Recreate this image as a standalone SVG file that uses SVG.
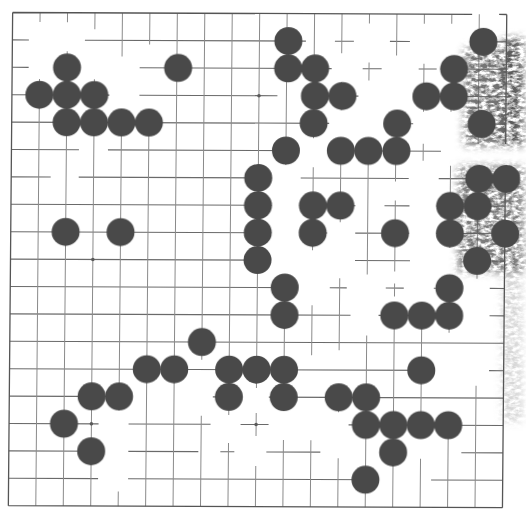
<svg xmlns="http://www.w3.org/2000/svg" width="526" height="515" viewBox="0 0 526 515">
<defs>
<style>
.h{fill:none;stroke:#6a6a6a;stroke-width:1.1}
.v{fill:none;stroke:#8a8a8a;stroke-width:1}
.e{fill:none;stroke:#555555;stroke-width:1.3}
.st circle{fill:#4a4a4a}
.hs{fill:#5a5a5a}
</style>
<filter id="soft" x="-10%" y="-10%" width="120%" height="120%"><feGaussianBlur stdDeviation="0.6"/></filter>
<filter id="smudge" filterUnits="userSpaceOnUse" x="430" y="0" width="96" height="460" color-interpolation-filters="sRGB">
<feTurbulence type="fractalNoise" baseFrequency="0.16 0.28" numOctaves="3" seed="11" result="noise"/>
<feColorMatrix in="noise" type="matrix" values="0 0 0 0 0.36 0 0 0 0 0.36 0 0 0 0 0.36 2.8 0 0 0 -0.85" result="speck"/>
<feGaussianBlur in="SourceAlpha" stdDeviation="4" result="mask"/>
<feComposite in="speck" in2="mask" operator="in"/>
</filter>
</defs>
<rect width="526" height="515" fill="#ffffff"/>
<g id="board" transform="matrix(1 0.004 -0.0087 1 2.26 -1.04)">
<g id="grid">
<path class="h" d="M83 40.9H304M333 40.9H352M388 40.9H408M468 40.9H504.6M10.5 40.9H27
M10.5 68.3H27M138 68.3H330M361 68.3H380M417 68.3H435M439 68.3H504.6
M10.5 95.7H108M138 95.7H276M301 95.7H357M413 95.7H504.6
M10.5 123.1H328M384 123.1H412M469 123.1H504.6
M10.5 150.5H78M107 150.5H298M327 150.5H440
M10.5 177.9H50M78 177.9H271M300 177.9H408M438 177.9H504.6
M10.5 205.3H271M300 205.3H355M384 205.3H409M436 205.3H504.6
M10.5 232.7H271M300 232.7H327M355 232.7H409M436 232.7H504.6
M10.5 260.1H271M355 260.1H410M464 260.1H504.6
M10.5 287.5H298M330 287.5H347M386 287.5H404M434 287.5H462M490 287.5H504.6
M10.5 314.9H351M379 314.9H461M490 314.9H504.6
M10.5 342.3H504.6
M10.5 369.7H435M490 369.7H504.6
M10.5 397.1H131M214 397.1H242M270 397.1H504.6
M10.5 424.5H100M130 424.5H212M242 424.5H270M350 424.5H504.6
M10.5 451.9H103M130 451.9H200M222 451.9H236M268 451.9H322M463 451.9H504.6
M10.5 479.3H100M130 479.3H377M433 479.3H504.6"/>
<path class="v" d="M37.95 13.5V23M37.95 80V506.7
M65.4 13.5V23M65.4 52V506.7
M92.85 13.5V30M92.85 80V506.7
M120.3 13.5V57M120.3 110V411M120.3 492V506.7
M147.75 13.5V45M147.75 110V506.7
M175.2 13.5V506.7
M202.65 13.5V360M202.65 416V506.7
M230.1 13.5V415M230.1 443V506.7
M257.55 13.5V388M257.55 413V436M257.55 466V506.7
M285 13.5V165M285 275V411M285 440V506.7
M312.45 13.5V138M312.45 167V250M312.45 305V355M312.45 440V506.7
M339.9 13.5V53M339.9 82V110M339.9 138V222M339.9 278V350M339.9 384V412M339.9 458V506.7
M367.35 13.5V23M367.35 62V80M367.35 138V274M367.35 335V506.7
M394.8 13.5V55M394.8 112V181M394.8 200V271M394.8 283V296M394.8 305V506.7
M422.25 13.5V23M422.25 63V111M422.25 143V160M422.25 306V421M422.25 458V506.7
M449.7 13.5V23M449.7 56V111M449.7 165V247M449.7 275V332M449.7 413V506.7
M477.15 13.5V143M477.15 165V278M477.15 385V506.7"/>
<path class="e" d="M10.5 13.5H470M497 13.5H504.6M10.5 506.7H504.6M10.5 13.5V506.7M504.6 13.5V143M504.6 165V506.7"/>
<g id="hoshi" class="hs">
<circle cx="92.85" cy="260.1" r="1.8"/>
<circle cx="257.55" cy="95.7" r="1.8"/>
<circle cx="92.85" cy="424.5" r="1.8"/>
<circle cx="257.55" cy="424.5" r="1.8"/>
</g>
</g>
</g>
<g id="smudge" filter="url(#smudge)">
<rect x="464" y="48" width="60" height="98" fill="#000" fill-opacity="0.85"/>
<rect x="502" y="38" width="22" height="108" fill="#000" fill-opacity="1"/>
<rect x="458" y="166" width="66" height="106" fill="#000" fill-opacity="0.8"/>
<rect x="502" y="272" width="20" height="150" fill="#000" fill-opacity="0.25"/>
</g>
<g transform="matrix(1 0.004 -0.0087 1 2.26 -1.04)">
<g id="stones" class="st" filter="url(#soft)">
<circle id="s-2-2" cx="65.4" cy="68.3" r="14"/>
<circle id="s-1-3" cx="37.95" cy="95.7" r="14"/>
<circle id="s-2-3" cx="65.4" cy="95.7" r="14"/>
<circle id="s-3-3" cx="92.85" cy="95.7" r="14"/>
<circle id="s-2-4" cx="65.4" cy="123.1" r="14"/>
<circle id="s-3-4" cx="92.85" cy="123.1" r="14"/>
<circle id="s-4-4" cx="120.3" cy="123.1" r="14"/>
<circle id="s-5-4" cx="147.75" cy="123.1" r="14"/>
<circle id="s-6-2" cx="176.5" cy="68.3" r="14"/>
<circle id="s-10-1" cx="286.5" cy="40.9" r="14"/>
<circle id="s-10-2" cx="286.5" cy="68.3" r="14"/>
<circle id="s-11-2" cx="313.5" cy="68.3" r="14"/>
<circle id="s-11-3" cx="313.5" cy="95.7" r="14"/>
<circle id="s-12-3" cx="341" cy="95.7" r="14"/>
<circle id="s-11-4" cx="312.45" cy="123.1" r="14"/>
<circle id="s-10-5" cx="285" cy="150.5" r="14"/>
<circle id="s-12-5" cx="339.9" cy="150.5" r="14"/>
<circle id="s-13-5" cx="367.35" cy="150.5" r="14"/>
<circle id="s-14-5" cx="395.5" cy="150.5" r="14"/>
<circle id="s-14-4" cx="396" cy="123.1" r="14"/>
<circle id="s-17-1" cx="481.5" cy="40.9" r="14"/>
<circle id="s-16-2" cx="452.5" cy="68.3" r="14"/>
<circle id="s-15-3" cx="425" cy="95.7" r="14"/>
<circle id="s-16-3" cx="452.5" cy="95.7" r="14"/>
<circle id="s-17-4" cx="480.5" cy="123.1" r="14"/>
<circle id="s-9-6" cx="257.55" cy="177.9" r="14"/>
<circle id="s-9-7" cx="257.55" cy="205.3" r="14"/>
<circle id="s-9-8" cx="257.55" cy="232.7" r="14"/>
<circle id="s-9-9" cx="257.55" cy="260.1" r="14"/>
<circle id="s-11-7" cx="312.45" cy="205.3" r="14"/>
<circle id="s-12-7" cx="339.9" cy="205.3" r="14"/>
<circle id="s-11-8" cx="312.45" cy="232.7" r="14"/>
<circle id="s-14-8" cx="394.8" cy="232.7" r="14"/>
<circle id="s-10-10" cx="285" cy="287.5" r="14"/>
<circle id="s-10-11" cx="285" cy="314.9" r="14"/>
<circle id="s-2-8" cx="65.4" cy="232.7" r="14"/>
<circle id="s-4-8" cx="120.3" cy="232.7" r="14"/>
<circle id="s-17-6" cx="478.5" cy="177.9" r="14"/>
<circle id="s-18-6" cx="505.5" cy="177.9" r="14"/>
<circle id="s-16-7" cx="449.7" cy="205.3" r="14"/>
<circle id="s-17-7" cx="477.15" cy="205.3" r="14"/>
<circle id="s-16-8" cx="449.7" cy="232.7" r="14"/>
<circle id="s-18-8" cx="505" cy="232.7" r="14"/>
<circle id="s-17-9" cx="477.15" cy="260.1" r="14"/>
<circle id="s-16-10" cx="449.7" cy="287.5" r="14"/>
<circle id="s-14-11" cx="394.8" cy="314.9" r="14"/>
<circle id="s-15-11" cx="422.25" cy="314.9" r="14"/>
<circle id="s-16-11" cx="449.7" cy="314.9" r="14"/>
<circle id="s-7-12" cx="202.65" cy="342.3" r="14"/>
<circle id="s-5-13" cx="147.75" cy="369.7" r="14"/>
<circle id="s-6-13" cx="175.2" cy="369.7" r="14"/>
<circle id="s-8-13" cx="230.1" cy="369.7" r="14"/>
<circle id="s-9-13" cx="257.55" cy="369.7" r="14"/>
<circle id="s-10-13" cx="285" cy="369.7" r="14"/>
<circle id="s-8-14" cx="230.1" cy="397.1" r="14"/>
<circle id="s-10-14" cx="285" cy="397.1" r="14"/>
<circle id="s-3-14" cx="92.85" cy="397.1" r="14"/>
<circle id="s-4-14" cx="120.3" cy="397.1" r="14"/>
<circle id="s-2-15" cx="65.4" cy="424.5" r="14"/>
<circle id="s-3-16" cx="92.85" cy="451.9" r="14"/>
<circle id="s-15-13" cx="422.25" cy="369.7" r="14"/>
<circle id="s-12-14" cx="339.9" cy="397.1" r="14"/>
<circle id="s-13-14" cx="367.35" cy="397.1" r="14"/>
<circle id="s-13-15" cx="367.35" cy="424.5" r="14"/>
<circle id="s-14-15" cx="394.8" cy="424.5" r="14"/>
<circle id="s-15-15" cx="422.25" cy="424.5" r="14"/>
<circle id="s-16-15" cx="449.7" cy="424.5" r="14"/>
<circle id="s-14-16" cx="394.8" cy="451.9" r="14"/>
<circle id="s-13-17" cx="367.35" cy="479.3" r="14"/>
</g>
</g>
</svg>
